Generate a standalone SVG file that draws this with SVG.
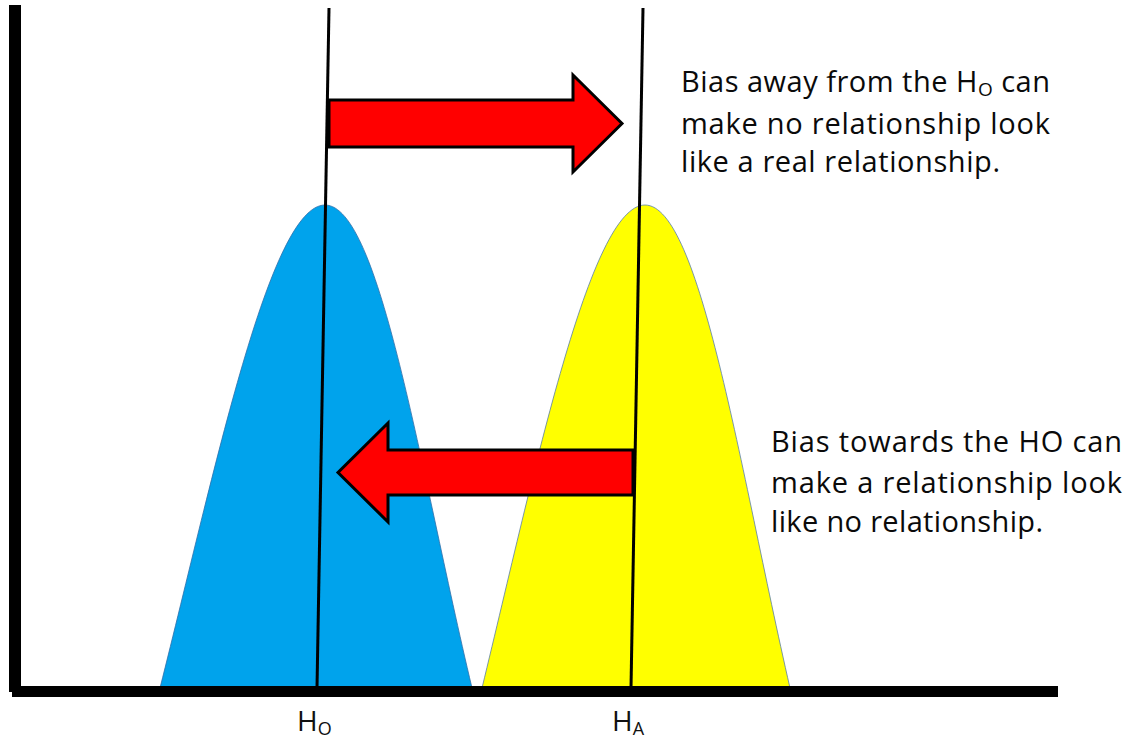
<svg xmlns="http://www.w3.org/2000/svg" width="1127" height="740" viewBox="0 0 1127 740">
<style>
.axis{fill:#000}
.hline{stroke:#000;stroke-width:3;fill:none}
.arrow{fill:#FF0000;stroke:#000;stroke-width:3;stroke-linejoin:miter}
.txt{font-family:"Open Sans","Liberation Sans",sans-serif;font-size:29px;fill:#0a0a0a}
.lbl{font-family:"Open Sans","Liberation Sans",sans-serif;font-size:28px;fill:#111}
</style>
<rect width="1127" height="740" fill="#fff"/>
<g id="curve-h0">
<path d="M160,688 C215,470 270,205 325,205 C380,205 420,470 472,688 Z" fill="#00A3EC" stroke="#2F6FAA" stroke-width="0.8"/>
</g>
<g id="curve-ha">
<path d="M482,688 C535,470 590,205 645,205 C700,205 740,470 790,688 Z" fill="#FFFF00" stroke="#5A7FA8" stroke-width="0.8"/>
</g>
<g id="axes">
<rect class="axis" x="9" y="5" width="12" height="687"/>
<rect class="axis" x="12" y="686" width="1046" height="11"/>
</g>
<g id="lines">
<line class="hline" x1="329" y1="8" x2="317" y2="688"/>
<line class="hline" x1="643" y1="8" x2="631" y2="688"/>
</g>
<g id="connectors">
<path id="arrow-away" class="arrow" d="M329,100 L573,100 L573,75 L622,123.5 L573,172 L573,147 L329,147 Z"/>
<path id="arrow-towards" class="arrow" d="M633,450 L388,450 L388,423 L338,472.5 L388,522 L388,495 L633,495 Z"/>
</g>
<g id="text-away">
<text class="txt" x="681" y="92" textLength="369" lengthAdjust="spacing">Bias away from the H<tspan font-size="19" dy="4">O</tspan><tspan dy="-4"> can</tspan></text>
<text class="txt" x="681" y="134" textLength="369" lengthAdjust="spacing">make no relationship look</text>
<text class="txt" x="681" y="172" textLength="319" lengthAdjust="spacing">like a real relationship.</text>
</g>
<g id="text-towards">
<text class="txt" x="771" y="452" textLength="351" lengthAdjust="spacing">Bias towards the HO can</text>
<text class="txt" x="771" y="493" textLength="351" lengthAdjust="spacing">make a relationship look</text>
<text class="txt" x="771" y="532" textLength="272" lengthAdjust="spacing">like no relationship.</text>
</g>
<g id="label-h0">
<text class="lbl" x="297" y="731">H<tspan font-size="18" dy="4">O</tspan></text>
</g>
<g id="label-ha">
<text class="lbl" x="612" y="731">H<tspan font-size="18" dy="4">A</tspan></text>
</g>
</svg>
